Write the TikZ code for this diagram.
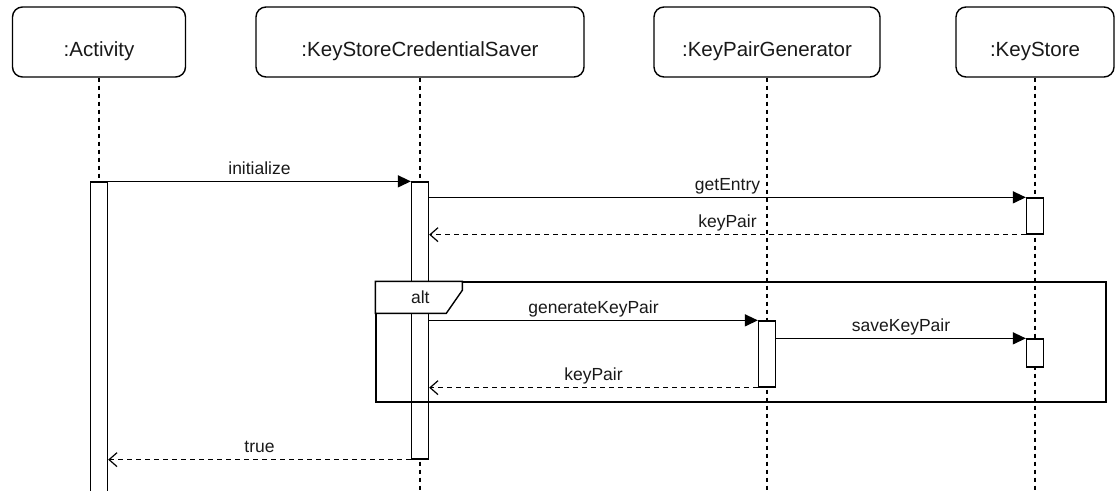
\documentclass[tikz,border=0pt]{standalone}
\usepackage{fontspec}
\setmainfont{Liberation Sans}
\usetikzlibrary{arrows.meta}

\begin{document}
\begin{tikzpicture}[x=1pt,y=-1pt,
  every node/.style={text=black!90},
  head/.style={draw, rounded corners=10pt, line width=1.4pt, minimum height=70pt,
    inner sep=0pt, text height=30pt, text depth=2pt, font=\fontsize{20.5}{24}\selectfont},
  life/.style={line width=1.5pt, dash pattern=on 4pt off 4pt},
  bar/.style={draw, fill=white, line width=1.3pt, minimum width=17pt, inner sep=0pt},
  msg/.style={line width=1.3pt, -{Triangle[length=13pt,width=12pt]}},
  ret/.style={line width=1.2pt, dash pattern=on 5pt off 4pt,
    -{Straight Barb[length=8pt,width=14pt]}},
  lbl/.style={anchor=base, inner sep=0pt, yshift=7pt, font=\fontsize{17.5}{21}\selectfont},
  frame/.style={draw, line width=1.4pt, inner sep=0pt},
]
\useasboundingbox (0,0) rectangle (1115,490);
\coordinate (bottom) at (0,490);

% participants
\node[head, minimum width=173pt] (act)  at (99,42)   {:Activity};
\node[head, minimum width=328pt] (kscs) at (420,42)  {:KeyStoreCredentialSaver};
\node[head, minimum width=226pt] (kpg)  at (767,42)  {:KeyPairGenerator};
\node[head, minimum width=158pt] (ks)   at (1035,42) {:KeyStore};

% lifelines
\draw[life] (act.south)  -- (act.south |- bottom);
\draw[life] (kscs.south) -- (kscs.south |- bottom);
\draw[life] (kpg.south)  -- (kpg.south |- bottom);
\draw[life] (ks.south)   -- (ks.south |- bottom);

% activation bars
\node[bar, minimum height=313pt] (actbar)  at (99,338.5) {};
\node[bar, minimum height=277pt] (kscsbar) at (420,320.5) {};
\node[bar, minimum height=36pt]  (ksbarA)  at (1035,216) {};
\node[bar, minimum height=66pt]  (kpgbar)  at (767,354) {};
\node[bar, minimum height=28pt]  (ksbarB)  at (1035,353) {};

% alt fragment
\node[frame, minimum width=730pt, minimum height=120pt] (alt) at (741,342) {};
\draw[line width=1.4pt, fill=white] (alt.north west) -- ++(87,0) -- ++(0,9)
  -- ++(-16,23) -- ++(-71,0) -- cycle;
\node[font=\fontsize{17.5}{21}\selectfont, inner sep=0pt]
  (altlbl) at ([xshift=45pt,yshift=-16pt]alt.north west) {alt};

% messages
\draw[msg] (actbar.north east) -- node[lbl] {initialize} (kscsbar.north west);
\draw[msg] (kscsbar.east |- ksbarA.north west) -- node[lbl] {getEntry} (ksbarA.north west);
\draw[ret] (ksbarA.south west) -- node[lbl] {keyPair} (kscsbar.east |- ksbarA.south west);
\draw[msg] (kscsbar.east |- kpgbar.north west) -- node[lbl] {generateKeyPair} (kpgbar.north west);
\draw[msg] (kpgbar.east |- ksbarB.north west) -- node[lbl] {saveKeyPair} (ksbarB.north west);
\draw[ret] (kpgbar.south west) -- node[lbl] {keyPair} (kscsbar.east |- kpgbar.south west);
\draw[ret] (kscsbar.south west) -- node[lbl] {true} (actbar.east |- kscsbar.south west);
\end{tikzpicture}
\end{document}
